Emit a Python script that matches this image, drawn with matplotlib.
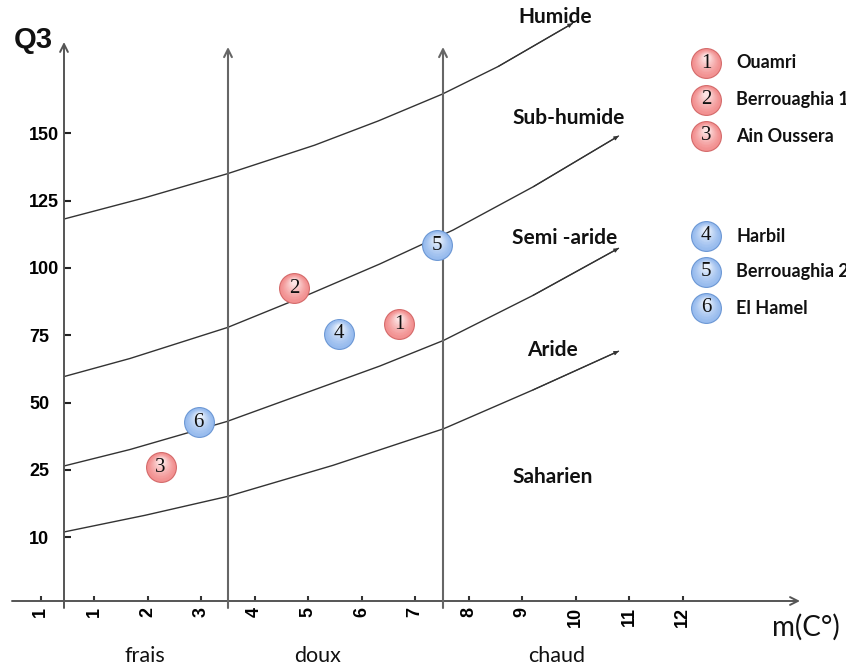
import numpy as np
import matplotlib
matplotlib.use("Agg")
import matplotlib.pyplot as plt
from matplotlib.colors import to_rgb
from matplotlib.transforms import offset_copy

# ---------------- data ----------------
station_ids = [1, 2, 3, 4, 5, 6]
station_names = ["Ouamri", "Berrouaghia 1", "Ain Oussera",
                 "Harbil", "Berrouaghia 2", "El Hamel"]
station_m = [6.70, 4.74, 2.24, 5.58, 7.40, 2.95]          # m (°C)
station_q3 = [79.1, 92.5, 26.0, 75.6, 108.5, 42.7]        # Q3
station_group = ["red", "red", "red", "blue", "blue", "blue"]

# bioclimatic boundary curves (m, Q3)
curve_humide_m = [0.44, 1.95, 3.49, 5.12, 6.31, 7.50, 8.55, 9.94]
curve_humide_q = [118.2, 126.1, 135.0, 145.6, 154.6, 164.5, 174.8, 190.8]
curve_subhum_m = [0.44, 1.67, 3.49, 5.05, 6.34, 7.71, 9.21, 10.80]
curve_subhum_q = [59.7, 66.4, 77.9, 90.5, 101.5, 114.1, 130.2, 149.0]
curve_semiar_m = [0.44, 1.67, 3.48, 5.41, 6.34, 7.53, 9.20, 10.80]
curve_semiar_q = [26.5, 32.6, 43.0, 56.9, 63.6, 73.1, 89.8, 107.3]
curve_aride_m = [0.44, 1.95, 3.49, 5.46, 7.53, 9.20, 10.80]
curve_aride_q = [11.2, 14.9, 19.1, 26.7, 40.3, 54.7, 69.1]

zone_labels = ["Humide", "Sub-humide", "Semi -aride", "Aride", "Saharien"]
x_tick_pos = list(range(13))
x_tick_labels = ["1", "1", "2", "3", "4", "5", "6", "7", "8", "9", "10", "11", "12"]
y_ticks = [10, 25, 50, 75, 100, 125, 150]
y_tick_labels = ["10", "25", "50", "75", "100", "125", "150"]
thermal_labels = ["frais", "doux", "chaud"]

# ---------------- layout helpers ----------------
W, H, DPI = 846, 667, 100
X0, XS = 40.7, 53.5          # px of first tick slot, px per slot
Y0, YS = 537.3, 67.33        # px of "10" slot, px per slot


def fwd(q):
    q = np.asarray(q, dtype=float)
    return np.where(q >= 25, q / 25.0, (q - 10.0) / 15.0)


def inv(s):
    s = np.asarray(s, dtype=float)
    return np.where(s >= 1, 25.0 * s, 10.0 + 15.0 * s)


def P(px, py):
    """pixel position (from top-left) -> data coordinates"""
    return (px - X0) / XS, float(inv((Y0 - py) / YS))


fig = plt.figure(figsize=(W / DPI, H / DPI), dpi=DPI)
ax = fig.add_axes([0, 0, 1, 1])
ax.set_yscale("function", functions=(fwd, inv))
ax.set_xlim((0 - X0) / XS, (W - X0) / XS)
ax.set_ylim(float(inv((Y0 - H) / YS)), float(inv(Y0 / YS)))
for s in ax.spines.values():
    s.set_visible(False)

axis_col = "#555555"
# axes with arrows
ax.annotate("", xy=P(800, 601), xytext=P(12, 601),
            arrowprops=dict(arrowstyle="->", color=axis_col, lw=1.4,
                            mutation_scale=14, shrinkA=0, shrinkB=0))
ax.annotate("", xy=P(64, 42), xytext=P(64, 608),
            arrowprops=dict(arrowstyle="->", color=axis_col, lw=1.4,
                            mutation_scale=14, shrinkA=0, shrinkB=0))
for vx in (228.0, 443.0):
    ax.annotate("", xy=P(vx, 47), xytext=P(vx, 608),
                arrowprops=dict(arrowstyle="->", color="#666666", lw=1.5,
                                mutation_scale=14, shrinkA=0, shrinkB=0))

# ticks
ax.spines["bottom"].set_position(("data", P(0, 601)[1]))
ax.spines["left"].set_position(("data", P(64, 0)[0]))
ax.set_xticks(x_tick_pos)
ax.set_xticklabels(x_tick_labels, rotation=90, fontsize=13,
                   fontweight="bold", family="Liberation Sans")
ax.tick_params(axis="x", direction="in", length=3.5, width=1.5,
               color="#333333", pad=4.5)
ax.set_yticks(y_ticks)
ax.set_yticklabels(y_tick_labels, fontsize=13, fontweight="bold",
                   family="Liberation Sans")
ax.yaxis.set_minor_locator(matplotlib.ticker.NullLocator())
ax.xaxis.set_minor_locator(matplotlib.ticker.NullLocator())
ax.tick_params(axis="y", direction="in", length=5, width=1.5,
               color="#222222", pad=25)
for lab in ax.get_yticklabels():
    lab.set_horizontalalignment("left")

# curves
curve_col = "#333333"
for cm, cq in [(curve_humide_m, curve_humide_q), (curve_subhum_m, curve_subhum_q),
               (curve_semiar_m, curve_semiar_q), (curve_aride_m, curve_aride_q)]:
    ax.plot(cm, cq, color=curve_col, lw=1.0, solid_capstyle="round",
            solid_joinstyle="round")
    ax.annotate("", xy=(cm[-1], cq[-1]), xytext=(cm[-2], cq[-2]),
                arrowprops=dict(arrowstyle="-|>", color=curve_col, lw=0.8,
                                mutation_scale=6, shrinkA=0, shrinkB=0))

# zone labels
zone_pos = [(555.5, 17), (568.5, 118), (564.5, 238), (552.5, 350), (553, 477)]
for lab, (px, py) in zip(zone_labels, zone_pos):
    ax.text(*P(px, py), lab, ha="center", va="center", fontsize=15,
            fontweight="bold", family="Lato", color="#111111")

# axis titles
ax.text(*P(33, 40), "Q3", ha="center", va="center", fontsize=21,
        fontweight="bold", family="Liberation Sans", color="#111111")
ax.text(*P(806, 627), "m(C°)", ha="center", va="center", fontsize=20,
        family="Lato", color="#111111")
for lab, px in zip(thermal_labels, [145, 318, 557]):
    ax.text(*P(px, 656), lab, ha="center", va="center", fontsize=15.5,
            family="Lato", color="#111111")

# bubble markers
palette = {
    "red": dict(ring="#d46a6a", outer="#f29090", inner="#fde4e4"),
    "blue": dict(ring="#6b97d4", outer="#97bbee", inner="#e8f0fc"),
}
D = 22.3  # marker diameter in points


def bubble(xs, ys, group, z=5):
    pal = palette[group]
    ax.scatter(xs, ys, s=D ** 2, color=pal["ring"], zorder=z, linewidths=0)
    c0 = np.array(to_rgb(pal["outer"]))
    c1 = np.array(to_rgb(pal["inner"]))
    n = 14
    d_in = D - 1.6
    for i in range(n):
        t = i / (n - 1)
        d = d_in * (1 - 0.8 * t)
        dy = (d_in - d) / 2 * 0.55 * DPI / 72
        col = c0 + (c1 - c0) * (t ** 1.3)
        tr = offset_copy(ax.transData, fig=fig, x=0, y=dy, units="dots")
        ax.scatter(xs, ys, s=d ** 2, color=col, zorder=z + 0.01 * (i + 1),
                   linewidths=0, transform=tr)


for sid, m, q, g in zip(station_ids, station_m, station_q3, station_group):
    bubble([m], [q], g)
    ax.text(m, q, str(sid), ha="center", va="center", fontsize=15,
            family="Liberation Serif", color="#111111", zorder=7)

# legend
legend_y = [63, 100, 136, 236, 272, 308]
for sid, name, g, ly in zip(station_ids, station_names, station_group, legend_y):
    lx, lq = P(706, ly)
    bubble([lx], [lq], g)
    ax.text(lx, lq, str(sid), ha="center", va="center", fontsize=15,
            family="Liberation Serif", color="#111111", zorder=7)
    ax.text(*P(736, ly), name, ha="left", va="center", fontsize=13,
            fontweight="bold", family="Lato", color="#111111")

fig.savefig("out.png", dpi=DPI)
